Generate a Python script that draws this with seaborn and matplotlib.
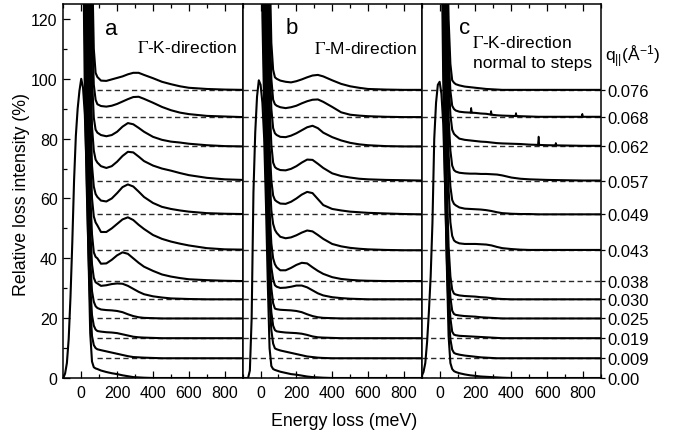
import numpy as np
import pandas as pd
import matplotlib
matplotlib.use("Agg")
import matplotlib.pyplot as plt
import seaborn as sns
from matplotlib.ticker import MultipleLocator

# ---------------- data ----------------
q_labels = ["0.076", "0.068", "0.062", "0.057", "0.049", "0.043",
            "0.038", "0.030", "0.025", "0.019", "0.009", "0.00"]
baselines = [96.3, 87.2, 77.4, 66.0, 54.7, 42.7, 32.4, 26.3, 19.9, 13.3, 6.7, 0.0]

peak_energy = [-100, -90, -80, -70, -60, -50, -40, -30, -20, -10, 0, 10, 20, 30, 40, 50, 60, 70, 80]
drop_energy = [0, 10, 20, 30, 40, 50, 60, 70, 80]
loss_energy = [90, 110, 140, 170, 200, 230, 260, 290, 320, 350, 400, 450, 500, 550, 600, 700, 800, 900]

# panel a : Gamma-K
a_peak = [0, 1.5, 5, 13, 27, 45, 66, 81, 90, 96, 100, 97, 88, 70, 42, 15, 5.5, 3.6, 3.2]
a_drop = [
    [600, 600, 500, 400, 300, 200, 140, 110, 102],
    [600, 550, 450, 350, 250, 160, 118, 98, 93],
    [600, 500, 400, 300, 200, 135, 100, 87, 83],
    [600, 450, 350, 250, 170, 110, 84, 76, 73],
    [600, 400, 300, 200, 135, 92, 71, 64, 61.5],
    [550, 350, 250, 165, 112, 78, 60, 54, 52],
    [500, 300, 200, 135, 92, 62, 48, 42, 40.5],
    [450, 250, 165, 115, 78, 50, 38, 33.5, 32],
    [400, 210, 140, 95, 63, 40, 29, 25.5, 24],
    [350, 180, 115, 80, 52, 31, 21, 17.5, 16.2],
    [300, 150, 95, 65, 42, 24, 14, 11, 10],
]
a_loss = [
    [100.6, 99.4, 99.3, 99.8, 100.3, 100.8, 101.5, 102.0, 102.0, 101.3, 100.2, 99.0, 98.2, 97.5, 97.0, 96.6, 96.4, 96.3],
    [91.5, 90.9, 90.7, 91.0, 91.6, 92.4, 93.2, 93.9, 94.0, 93.3, 92.0, 90.6, 89.5, 88.7, 88.2, 87.6, 87.4, 87.2],
    [82.0, 81.2, 80.8, 81.2, 82.3, 84.0, 85.2, 84.8, 83.6, 82.3, 80.6, 79.6, 79.0, 78.7, 78.3, 77.8, 77.5, 77.4],
    [72.0, 70.8, 70.2, 70.8, 72.3, 74.2, 75.6, 75.4, 74.0, 72.5, 71.0, 70.0, 69.3, 68.5, 67.8, 66.9, 66.4, 66.2],
    [60.5, 59.3, 59.0, 60.0, 61.8, 63.8, 64.7, 64.0, 62.3, 60.5, 58.5, 57.2, 56.5, 56.0, 55.6, 55.1, 54.9, 54.8],
    [51.0, 48.8, 48.8, 50.0, 51.5, 53.0, 53.7, 52.8, 51.2, 49.8, 47.8, 46.5, 45.6, 44.9, 44.3, 43.4, 43.0, 42.9],
    [40.0, 38.2, 38.3, 39.5, 41.0, 42.0, 41.5, 40.0, 38.5, 37.2, 35.8, 34.6, 33.9, 33.4, 33.0, 32.7, 32.5, 32.4],
    [31.6, 30.8, 31.0, 31.4, 31.6, 31.5, 30.8, 29.8, 28.8, 28.0, 27.3, 26.9, 26.6, 26.5, 26.4, 26.3, 26.3, 26.3],
    [23.4, 22.9, 22.7, 22.6, 22.4, 22.0, 21.3, 20.7, 20.3, 20.1, 20.0, 19.9, 19.9, 19.9, 19.9, 19.9, 19.9, 19.9],
    [15.7, 15.5, 15.3, 15.2, 15.0, 14.6, 14.2, 13.8, 13.6, 13.5, 13.4, 13.3, 13.3, 13.3, 13.3, 13.3, 13.3, 13.3],
    [9.6, 9.3, 8.9, 8.5, 8.1, 7.7, 7.3, 7.0, 6.9, 6.8, 6.7, 6.6, 6.6, 6.6, 6.6, 6.6, 6.6, 6.6],
    [3.0, 2.5, 2.0, 1.6, 1.3, 0.9, 0.6, 0.3, 0.2, 0.1, 0.0, 0.0, 0.0, 0.0, 0.0, 0.0, 0.0, 0.0],
]

# panel b : Gamma-M
b_peak = [0, 0, 0, 0, 2.5, 20, 62, 82, 94, 99.5, 98, 92, 80, 58, 32, 10, 4, 3, 2.7]
b_drop = [
    [400, 380, 320, 240, 180, 140, 112, 103, 100.5],
    [400, 360, 300, 220, 160, 122, 100, 93, 91.5],
    [380, 330, 270, 200, 145, 108, 90, 83.5, 81.8],
    [360, 300, 240, 170, 125, 92, 78, 72, 70.5],
    [340, 270, 200, 150, 105, 78, 66, 61, 59.5],
    [320, 240, 170, 130, 92, 68, 56, 51.5, 49.5],
    [300, 210, 150, 112, 80, 56, 45, 40, 38],
    [280, 180, 130, 100, 70, 48, 37, 33, 31],
    [260, 160, 115, 88, 60, 40, 30, 25, 23.2],
    [240, 140, 100, 75, 50, 32, 22, 17.5, 16],
    [220, 121, 90, 66, 44, 26, 16, 11.5, 9.9],
]
b_loss = [
    [100.0, 99.4, 99.0, 98.8, 99.2, 99.8, 100.5, 101.1, 101.3, 100.8, 99.5, 98.3, 97.5, 97.0, 96.6, 96.4, 96.3, 96.3],
    [91.0, 90.5, 90.2, 90.5, 91.0, 91.8, 92.5, 93.0, 93.1, 92.3, 90.6, 88.8, 88.0, 87.7, 87.5, 87.3, 87.2, 87.2],
    [81.2, 80.6, 80.5, 81.0, 81.8, 82.8, 83.8, 84.3, 83.5, 82.0, 80.5, 79.4, 78.6, 78.1, 77.8, 77.5, 77.4, 77.4],
    [70.0, 69.5, 69.4, 69.9, 70.8, 72.0, 73.0, 72.9, 71.6, 70.2, 68.4, 67.5, 67.0, 66.6, 66.4, 66.2, 66.1, 66.0],
    [59.0, 58.3, 58.2, 58.9, 60.0, 61.3, 62.2, 61.8, 59.8, 57.8, 56.5, 56.0, 55.6, 55.4, 55.2, 55.0, 54.8, 54.7],
    [48.5, 47.2, 46.7, 47.0, 47.7, 48.6, 49.3, 49.0, 47.8, 46.5, 44.8, 44.0, 43.5, 43.2, 43.0, 42.8, 42.7, 42.7],
    [37.0, 36.0, 36.0, 36.8, 37.8, 38.5, 38.3, 37.0, 35.8, 34.8, 33.7, 33.1, 32.8, 32.6, 32.5, 32.4, 32.4, 32.4],
    [30.5, 30.1, 30.2, 30.5, 30.9, 30.9, 30.3, 29.3, 28.3, 27.6, 27.0, 26.7, 26.5, 26.4, 26.3, 26.3, 26.3, 26.3],
    [23.0, 22.8, 22.7, 22.6, 22.4, 22.0, 21.3, 20.7, 20.3, 20.1, 20.0, 19.9, 19.9, 19.9, 19.9, 19.9, 19.9, 19.9],
    [15.6, 15.4, 15.2, 15.1, 15.0, 14.8, 14.4, 13.9, 13.6, 13.5, 13.4, 13.3, 13.3, 13.3, 13.3, 13.3, 13.3, 13.3],
    [9.6, 9.2, 8.8, 8.4, 8.0, 7.6, 7.2, 7.0, 6.8, 6.7, 6.6, 6.6, 6.6, 6.6, 6.6, 6.6, 6.6, 6.6],
    [2.5, 2.1, 1.7, 1.3, 1.1, 0.8, 0.5, 0.3, 0.2, 0.1, 0.0, 0.0, 0.0, 0.0, 0.0, 0.0, 0.0, 0.0],
]

# panel c : Gamma-K normal to steps (no 0.038 spectrum)
c_peak = [0.7, 2, 5, 12, 22, 34, 52, 80, 92, 98, 99, 95, 85, 65, 38, 14, 5, 3, 2.3]
c_drop = [
    [400, 350, 280, 200, 150, 120, 105, 99.5, 98.7],
    [400, 330, 260, 185, 135, 108, 96, 91, 89.9],
    [380, 310, 240, 170, 125, 100, 88, 83, 81.6],
    [360, 290, 220, 155, 110, 87, 76, 71, 69.5],
    [340, 270, 200, 140, 98, 75, 64, 59.5, 58.2],
    [320, 250, 180, 125, 85, 63, 52, 47.5, 46],
    None,
    [280, 210, 150, 100, 65, 44, 34, 29.5, 28.2],
    [260, 190, 130, 88, 56, 36, 27, 22.5, 21.4],
    [240, 170, 115, 76, 48, 29, 20, 15.5, 14.5],
    [220, 150, 100, 65, 40, 22, 13, 9.5, 8.4],
]
c_loss = [
    [98.2, 97.8, 97.4, 97.2, 97.0, 96.8, 96.6, 96.5, 96.4, 96.3, 96.3, 96.3, 96.3, 96.3, 96.3, 96.3, 96.3, 96.3],
    [89.4, 89.0, 88.8, 88.7, 88.6, 88.4, 88.3, 88.0, 87.8, 87.7, 87.6, 87.5, 87.4, 87.3, 87.3, 87.3, 87.3, 87.3],
    [81.0, 80.0, 79.6, 79.4, 79.2, 79.0, 78.9, 78.7, 78.5, 78.4, 78.3, 78.2, 78.0, 77.9, 77.8, 77.7, 77.6, 77.6],
    [69.0, 68.6, 68.4, 68.3, 68.3, 68.2, 68.2, 68.1, 68.0, 67.7, 67.0, 66.6, 66.4, 66.3, 66.2, 66.1, 66.0, 66.0],
    [57.7, 57.0, 56.6, 56.5, 56.4, 56.3, 56.1, 55.8, 55.4, 55.1, 54.9, 54.8, 54.8, 54.7, 54.7, 54.7, 54.7, 54.7],
    [45.5, 45.0, 44.8, 44.8, 44.8, 44.7, 44.6, 44.3, 43.8, 43.4, 43.1, 42.9, 42.8, 42.8, 42.8, 42.8, 42.8, 42.8],
    None,
    [27.9, 27.6, 27.4, 27.3, 27.2, 27.0, 26.9, 26.7, 26.5, 26.4, 26.3, 26.3, 26.3, 26.3, 26.3, 26.3, 26.3, 26.3],
    [21.1, 20.9, 20.7, 20.6, 20.5, 20.3, 20.2, 20.1, 20.0, 19.9, 19.9, 19.9, 19.9, 19.9, 19.9, 19.9, 19.9, 19.9],
    [14.3, 14.1, 14.0, 13.9, 13.8, 13.7, 13.6, 13.5, 13.4, 13.3, 13.3, 13.3, 13.3, 13.3, 13.3, 13.3, 13.3, 13.3],
    [8.1, 7.8, 7.5, 7.3, 7.1, 6.9, 6.8, 6.7, 6.6, 6.6, 6.6, 6.6, 6.6, 6.6, 6.6, 6.6, 6.6, 6.6],
    [2.0, 1.6, 1.2, 0.9, 0.7, 0.5, 0.4, 0.3, 0.2, 0.1, 0.0, 0.0, 0.0, 0.0, 0.0, 0.0, 0.0, 0.0],
]
# narrow spikes seen in panel c
c_spike_q = ["0.068", "0.068", "0.068", "0.068", "0.062", "0.062"]
c_spike_e = [176, 287, 426, 796, 552, 648]
c_spike_h = [1.6, 1.2, 1.0, 1.0, 2.8, 0.8]

# ---------------- style ----------------
sns.set_theme(style="ticks")
plt.rcParams["font.family"] = ["Liberation Sans", "DejaVu Sans"]
plt.rcParams["mathtext.fontset"] = "stix"
plt.rcParams["text.color"] = "black"
plt.rcParams["axes.edgecolor"] = "black"
plt.rcParams["xtick.color"] = "black"
plt.rcParams["ytick.color"] = "black"


def build_frame(peak, drops, losses):
    rows = []
    for i, q in enumerate(q_labels):
        loss = losses[i]
        if loss is None:
            continue
        if q == "0.00":
            energies = peak_energy + loss_energy
            values = peak + loss
        else:
            energies = drop_energy + loss_energy
            values = drops[i] + loss
        for order, (e, v) in enumerate(zip(energies, values)):
            rows.append({"q": q, "energy": e, "intensity": v, "order": order})
    return pd.DataFrame(rows)


frames = [build_frame(a_peak, a_drop, a_loss),
          build_frame(b_peak, b_drop, b_loss),
          build_frame(c_peak, c_drop, c_loss)]

W, H = 675, 435
fig = plt.figure(figsize=(W / 100, H / 100), dpi=100)
lefts = [63.3, 242.7, 421.7]
right_edges = [242.7, 421.7, 601.0]
top_px, bot_px = 5.0, 379.0
axes = []
for i in range(3):
    ax = fig.add_axes([lefts[i] / W, 1 - bot_px / H,
                       (right_edges[i] - lefts[i]) / W, (bot_px - top_px) / H])
    axes.append(ax)

dash_style = (0, (3.8, 2.4))
for i, ax in enumerate(axes):
    df = frames[i]
    xmin = 90 if i == 0 else -100
    ax.hlines(baselines, xmin, 900, colors="#2a2a2a", linestyles=dash_style,
              linewidth=1.0, zorder=1)
    sns.lineplot(data=df, x="energy", y="intensity", units="q", estimator=None,
                 sort=False, color="black", linewidth=1.5, ax=ax, legend=False,
                 zorder=3)
    ax.set_xlim(-100, 900)
    ax.set_ylim(0, 125)
    ax.set_xlabel("")
    ax.set_ylabel("")
    for s in ax.spines.values():
        s.set_visible(True)
        s.set_linewidth(1.1)
        s.set_color("black")
    ax.xaxis.set_major_locator(MultipleLocator(200))
    ax.xaxis.set_minor_locator(MultipleLocator(100))
    ax.tick_params(axis="x", which="both", direction="in", top=True, bottom=True,
                   width=0.9, labelsize=11.5, pad=5)
    ax.tick_params(axis="x", which="major", length=5)
    ax.tick_params(axis="x", which="minor", length=3)

# spikes in panel c
axc = axes[2]
for q, e, h in zip(c_spike_q, c_spike_e, c_spike_h):
    k = q_labels.index(q)
    base = np.interp(e, loss_energy, c_loss[k])
    axc.plot([e - 4, e, e + 4], [base, base + h, base], color="black", lw=1.2, zorder=3)

# y axes
axa = axes[0]
axa.yaxis.set_major_locator(MultipleLocator(20))
axa.yaxis.set_minor_locator(MultipleLocator(10))
axa.tick_params(axis="y", which="both", direction="in", left=True, right=False,
                width=0.9, labelsize=11.5, pad=4)
axa.tick_params(axis="y", which="major", length=5)
axa.tick_params(axis="y", which="minor", length=3)

axes[1].tick_params(axis="y", which="both", left=False, right=False, labelleft=False)

axc.set_yticks(baselines)
axc.set_yticklabels(q_labels)
axc.yaxis.set_minor_locator(plt.NullLocator())
axc.tick_params(axis="y", which="both", left=False, right=True, labelleft=False,
                labelright=True, direction="out", length=3, width=0.9,
                labelsize=12, pad=1.5)

# panel letters and direction labels
axa.text(167, 116.7, "a", fontsize=16, ha="center", va="center")
axes[1].text(172, 117, "b", fontsize=16, ha="center", va="center")
axc.text(139, 117, "c", fontsize=16, ha="center", va="center")

axa.text(868, 110.5, r"$\Gamma$-K-direction", fontsize=12.5, ha="right", va="center")
axes[1].text(872, 110.3, r"$\Gamma$-M-direction", fontsize=12.5, ha="right", va="center")
axc.text(183, 112.4, r"$\Gamma$-K-direction", fontsize=12.5, ha="left", va="center")
axc.text(185, 105.3, "normal to steps", fontsize=12.5, ha="left", va="center")

fig.text(605 / W, 1 - 57 / H, r"$\mathregular{q_{||}(Å^{-1})}$", fontsize=12.5,
         ha="left", va="center")

fig.text(344 / W, 1 - 421.7 / H, "Energy loss (meV)", fontsize=12.8,
         ha="center", va="center")
fig.text(22 / W, 1 - 195 / H, "Relative loss intensity (%)", fontsize=12.8,
         ha="center", va="center", rotation=90)

fig.savefig("out.png", dpi=100)
